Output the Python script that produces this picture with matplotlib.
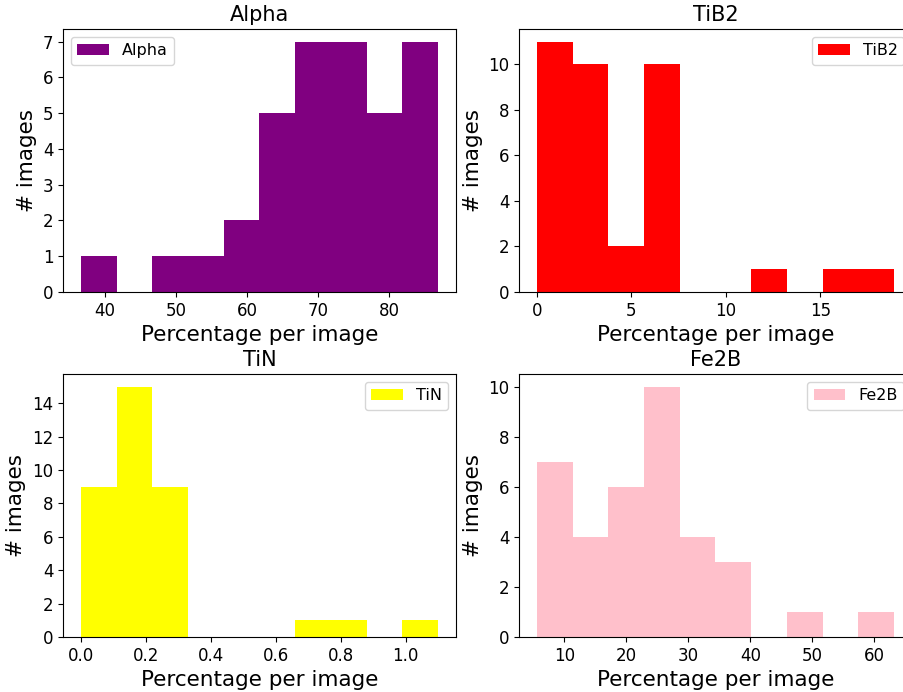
import numpy as np
import matplotlib
matplotlib.use("Agg")
import matplotlib.pyplot as plt
from matplotlib.ticker import MultipleLocator

# Histogram data (10 bins each)
alpha_range = (36.6, 86.86)
alpha_counts = [1, 0, 1, 1, 2, 5, 7, 7, 5, 7]

tib2_range = (0.0, 18.9)
tib2_counts = [11, 10, 2, 10, 0, 0, 1, 0, 1, 1]

tin_range = (0.0, 1.10)
tin_counts = [9, 15, 9, 0, 0, 0, 1, 1, 0, 1]

fe2b_range = (5.56, 63.19)
fe2b_counts = [7, 4, 6, 10, 4, 3, 0, 1, 0, 1]

panels = [
    ("Alpha", alpha_range, alpha_counts, "purple", "upper left", 1),
    ("TiB2", tib2_range, tib2_counts, "red", "upper right", 2),
    ("TiN", tin_range, tin_counts, "yellow", "upper right", 2),
    ("Fe2B", fe2b_range, fe2b_counts, "pink", "upper right", 2),
]

W, H = 904, 692
fig = plt.figure(figsize=(W / 100, H / 100), dpi=100)

ax_w = 393 / W
ax_h = 263 / H
positions = [
    (63 / W, (H - 292) / H),
    (519 / W, (H - 292) / H),
    (63 / W, (H - 637) / H),
    (519 / W, (H - 637) / H),
]

for (name, rng, counts, color, loc, ystep), (l, b) in zip(panels, positions):
    ax = fig.add_axes([l, b, ax_w, ax_h])
    nb = len(counts)
    edges = np.linspace(rng[0], rng[1], nb + 1)
    centers = (edges[:-1] + edges[1:]) / 2
    ax.hist(centers, bins=nb, range=rng, weights=counts, color=color, label=name)
    ax.set_title(name, fontsize=15)
    ax.set_xlabel("Percentage per image", fontsize=15.5)
    ax.set_ylabel("# images", fontsize=15.5)
    ax.yaxis.set_major_locator(MultipleLocator(ystep))
    ax.tick_params(labelsize=12)
    ax.legend(loc=loc, fontsize=11.5)

fig.savefig("out.png", dpi=100)
